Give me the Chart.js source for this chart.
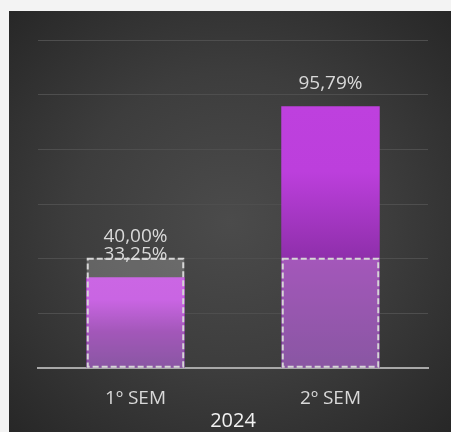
<!DOCTYPE html>
<html>
<head>
<meta charset="utf-8">
<script src="https://cdn.jsdelivr.net/npm/chart.js@4"></script>
<style>
  html, body { margin: 0; padding: 0; width: 451px; height: 432px; overflow: hidden; background: #f3f3f3; }
  #panel { position: absolute; left: 9px; top: 11px; width: 442px; height: 421px;
    background: radial-gradient(ellipse at 50% 50%, #4b4b4b 0%, #3d3d3d 50%, #272727 100%); }
  #wrap { position: absolute; left: 0; top: 0; width: 451px; height: 432px; }
</style>
</head>
<body>
<div id="panel"></div>
<div id="wrap"><canvas id="c" width="451" height="432"></canvas></div>
<script>
const categories = ['1º SEM', '2º SEM'];
const groupLabel = '2024';
const actualValues = [33.25, 95.79];
const targetValues = [40.00, 40.00];
const targetLabelShown = [true, false];
const yMax = 120;
const yStep = 20;

function fmt(v) { return v.toFixed(2).replace('.', ',') + '%'; }

function barGradient(ctx) {
  const chart = ctx.chart;
  if (!chart.chartArea || !chart.scales.y) return '#be40de';
  const y = chart.scales.y;
  const top = y.getPixelForValue(ctx.raw);
  const base = y.getPixelForValue(0);
  const g = chart.ctx.createLinearGradient(0, top, 0, base);
  g.addColorStop(0, '#be40de');
  g.addColorStop(0.25, '#bc3fdc');
  g.addColorStop(0.6, '#8c2ea8');
  g.addColorStop(1, '#6c2c8c');
  return g;
}

const decorPlugin = {
  id: 'decor',
  afterDatasetsDraw(chart) {
    const c = chart.ctx;
    const tMeta = chart.getDatasetMeta(0);
    c.save();
    c.strokeStyle = '#d6d6d6';
    c.lineWidth = 2;
    c.setLineDash([6, 3]);
    tMeta.data.forEach(el => {
      const left = el.x - el.width / 2 + 1;
      const right = el.x + el.width / 2 - 1;
      c.strokeRect(left, el.y, right - left, el.base - el.y - 1);
    });
    c.restore();
    c.save();
    c.font = '19px "Open Sans", sans-serif';
    c.fillStyle = '#d9d9d9';
    c.textAlign = 'center';
    c.textBaseline = 'alphabetic';
    const aMeta = chart.getDatasetMeta(1);
    aMeta.data.forEach((el, i) => {
      c.fillText(fmt(actualValues[i]), el.x, el.y - 17);
    });
    tMeta.data.forEach((el, i) => {
      if (targetLabelShown[i]) c.fillText(fmt(targetValues[i]), el.x, el.y - 17);
    });
    c.restore();
  }
};

new Chart(document.getElementById('c'), {
  type: 'bar',
  data: {
    labels: categories,
    datasets: [
      {
        label: 'Meta',
        data: targetValues,
        backgroundColor: 'rgba(255,255,255,0.2)',
        borderWidth: 0,
        grouped: false,
        order: 0,
        categoryPercentage: 1,
        barPercentage: 0.5
      },
      {
        label: 'Realizado',
        data: actualValues,
        backgroundColor: barGradient,
        borderWidth: 0,
        grouped: false,
        order: 1,
        categoryPercentage: 1,
        barPercentage: 0.505
      }
    ]
  },
  options: {
    responsive: false,
    animation: false,
    layout: { padding: { left: 38, right: 23, top: 40, bottom: 0 } },
    plugins: { legend: { display: false }, tooltip: { enabled: false } },
    scales: {
      x: {
        grid: { display: false, drawTicks: false },
        border: { display: true, color: '#a8a8a8', width: 2 },
        ticks: { color: '#d9d9d9', font: { family: 'Open Sans', size: 19 }, padding: 19 },
        title: { display: true, text: groupLabel, color: '#f2f2f2', font: { family: 'Open Sans', size: 20 }, padding: { top: -20, bottom: -1 } }
      },
      y: {
        min: 0, max: yMax,
        grid: { color: '#4e4e4e', lineWidth: 1, drawTicks: false },
        border: { display: false },
        ticks: { display: false, stepSize: yStep }
      }
    }
  },
  plugins: [decorPlugin]
});
</script>
</body>
</html>
